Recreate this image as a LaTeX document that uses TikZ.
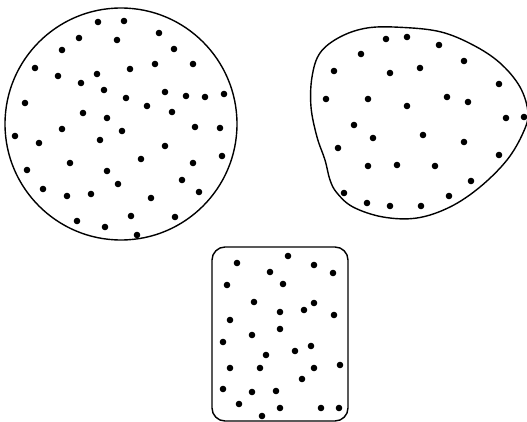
\documentclass[tikz,border=0pt]{standalone}
\begin{document}
\begin{tikzpicture}[x=1pt,y=-1pt,
  outline/.style={draw=black,line width=1.4pt},
  dot/.style={fill=black}]
\useasboundingbox (0,0) rectangle (527,422);
\clip (0,0) rectangle (527,422);
% circle
\node[outline,circle,minimum size=232pt,inner sep=0pt] (c1) at (121,124) {};
\foreach \p in {(98,22),(124,21),(159,33),(79,38),(117,40),(62,50),(174,49),(35,68),(58,76),(97,74),(130,69),(155,64),(193,64),(81,83),(104,90),(165,92),(186,96),(205,97),(224,94),(25,103),(126,98),(147,106),(83,113),(107,118),(172,112),(62,129),(122,131),(195,127),(220,128),(15,136),(39,143),(100,140),(165,146),(141,159),(70,163),(222,156),(193,163),(27,170),(107,171),(118,184),(182,180),(43,189),(67,196),(91,194),(151,198),(199,192),(77,221),(131,216),(175,217),(105,227),(137,235)}
  \fill[dot] \p circle (3.3);
% blob
\draw[outline] plot[smooth cycle,tension=0.6] coordinates {(400,27.3) (440,31.7) (473,45) (500,63) (520,87) (528,113) (523,133) (507,160) (480,187) (450,207) (417,218) (383,217) (353,207) (337,193) (330,180) (325,160) (317,137) (311,107) (312,77) (320,53) (340,37) (367,28)};
\foreach \p in {(386,39),(407,37),(439,45),(361,54),(464,61),(334,71),(390,73),(420,68),(499,84),(326,99),(368,99),(407,106),(447,97),(468,102),(506,118),(524,117),(354,125),(373,138),(423,135),(464,142),(338,148),(499,155),(368,166),(397,165),(435,166),(471,181),(344,193),(449,196),(367,203),(390,206),(421,206)}
  \fill[dot] \p circle (3.3);
% rounded rectangle
\draw[outline,rounded corners=13pt] (212,247) rectangle (348,421);
\foreach \p in {(237,263),(288,256),(314,265),(333,273),(270,272),(227,285),(283,284),(254,302),(314,303),(280,312),(304,310),(334,315),(230,320),(280,329),(252,335),(223,342),(311,346),(295,351),(266,355),(230,368),(260,368),(314,368),(340,365),(302,379),(223,389),(252,392),(276,391),(239,404),(280,408),(321,408),(339,408),(262,416)}
  \fill[dot] \p circle (3.3);
\end{tikzpicture}
\end{document}
